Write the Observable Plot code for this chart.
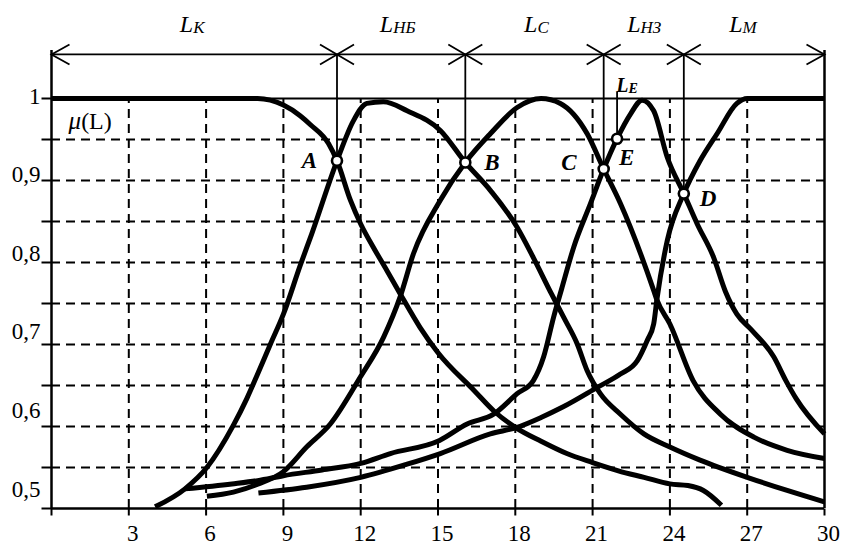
<!DOCTYPE html>
<html>
<head>
<meta charset="utf-8">
<script src="https://cdn.jsdelivr.net/npm/d3@7"></script>
<script src="https://cdn.jsdelivr.net/npm/@observablehq/plot@0.6"></script>
<style>
  body { margin: 0; background: #fff; }
  #chart svg { display: block; background: #fff; }
</style>
</head>
<body>
<div id="chart"></div>
<script>
// ---------------- DATA ----------------
// Membership curves μ(L)
const kX  = [0, 8, 9, 9.65, 10.05, 10.75, 11.08, 11.6, 12, 12.5, 13.02, 13.53, 14.3, 15, 16.4, 17.2, 18, 19, 20, 21, 22, 23, 24, 24.7, 25.3, 26];
const kY  = [1, 1, 0.992, 0.979, 0.968, 0.945, 0.924, 0.876, 0.847, 0.818, 0.79, 0.762, 0.721, 0.69, 0.644, 0.618, 0.599, 0.582, 0.567, 0.556, 0.546, 0.538, 0.53, 0.528, 0.522, 0.504];

const nbX = [4.02, 5.18, 6.03, 7.05, 7.58, 8.0, 8.49, 9.0, 9.66, 10.1, 11.08, 11.72, 12.24, 12.88, 13.8, 15.09, 16.06, 17.03, 18.07, 18.7, 19.4, 19.88, 20.4, 20.79, 21.3, 22.08, 22.99, 24.0, 25.17, 27.0, 28.55, 30];
const nbY = [0.502, 0.524, 0.55, 0.601, 0.634, 0.664, 0.70, 0.737, 0.797, 0.835, 0.924, 0.973, 0.994, 0.996, 0.985, 0.961, 0.922, 0.888, 0.843, 0.806, 0.762, 0.733, 0.701, 0.668, 0.64, 0.615, 0.591, 0.575, 0.559, 0.538, 0.522, 0.508];

const cX  = [6.03, 7.06, 8.03, 9.0, 9.9, 10.82, 11.98, 12.89, 13.53, 14.05, 15.09, 16.06, 17.03, 18.07, 19.0, 19.75, 20.79, 21.43, 22.08, 23.37, 23.5, 24.0, 24.9, 25.96, 27.26, 28.55, 30];
const cY  = [0.515, 0.52, 0.53, 0.545, 0.575, 0.603, 0.66, 0.709, 0.758, 0.811, 0.876, 0.922, 0.957, 0.989, 1.0, 0.994, 0.957, 0.914, 0.872, 0.766, 0.754, 0.725, 0.656, 0.615, 0.587, 0.571, 0.561];

const nzX = [5.18, 7.0, 8.0, 9.0, 10.5, 12.0, 13.15, 15.06, 16.13, 17.16, 18.07, 18.7, 19.1, 19.5, 19.8, 20.27, 20.92, 21.43, 21.95, 22.47, 22.92, 23.37, 23.9, 24.54, 25.06, 25.7, 26.15, 26.6, 27.13, 28.03, 28.5, 28.9, 30];
const nzY = [0.524, 0.53, 0.534, 0.54, 0.547, 0.555, 0.567, 0.583, 0.603, 0.615, 0.64, 0.656, 0.685, 0.735, 0.768, 0.819, 0.872, 0.914, 0.951, 0.981, 0.998, 0.985, 0.928, 0.884, 0.847, 0.806, 0.765, 0.737, 0.719, 0.685, 0.656, 0.634, 0.591];

const mX  = [8.03, 9.9, 12.0, 13.8, 15.09, 17.03, 18.07, 19.0, 19.86, 21.2, 22.08, 22.73, 23.12, 23.37, 23.5, 23.9, 24.54, 25.17, 25.83, 26.6, 27.0, 30];
const mY  = [0.519, 0.526, 0.538, 0.554, 0.567, 0.591, 0.599, 0.611, 0.624, 0.648, 0.664, 0.68, 0.705, 0.725, 0.756, 0.827, 0.884, 0.924, 0.957, 0.994, 1.0, 1.0];

// Characteristic points
const pointNames = ["A", "B", "C", "D", "E"];
const pointX = [11.08, 16.06, 21.43, 24.54, 21.95];
const pointY = [0.924, 0.922, 0.914, 0.884, 0.951];

// Zones (boundaries at A, B, C, D)
const zoneSubs = ["К", "НБ", "С", "НЗ", "М"];
const zoneLabelX = [5.5, 13.26, 18.86, 22.86, 26.82];

// Axes
const xGrid = [3, 6, 9, 12, 15, 18, 21, 24, 27];
const yGrid = [0.55, 0.6, 0.65, 0.7, 0.75, 0.8, 0.85, 0.9, 0.95];
const xTickValues = [0, 3, 6, 9, 12, 15, 18, 21, 24, 27, 30];
const xTickLabels = ["", "3", "6", "9", "12", "15", "18", "21", "24", "27", "30"];
const yTickValues = [0.5, 0.55, 0.6, 0.65, 0.7, 0.75, 0.8, 0.85, 0.9, 0.95, 1];
const yLabelValues = [0.5, 0.6, 0.7, 0.8, 0.9, 1];
const yLabelTexts = ["0,5", "0,6", "0,7", "0,8", "0,9", "1"];

// ---------------- BUILD ----------------
const curveSeries = [
  {name: "К", x: kX, y: kY},
  {name: "НБ", x: nbX, y: nbY},
  {name: "С", x: cX, y: cY},
  {name: "НЗ", x: nzX, y: nzY},
  {name: "М", x: mX, y: mY}
];
const curveData = curveSeries.flatMap(s => s.x.map((x, i) => ({series: s.name, x, y: s.y[i]})));
const points = pointNames.map((name, i) => ({name, x: pointX[i], y: pointY[i]}));
const boundaries = points.slice(0, 4);
const pE = points[4];
const zones = zoneSubs.map((s, i) => ({sub: s, x: zoneLabelX[i]}));

// layout levels (data space, above the frame)
const yMin = 0.5, yMax = 1, xMin = 0, xMax = 30;
const arrowY = 1.0537;
const frameTop = 1.0585;
const zoneLabelY = 1.0817;
const leTopY = 1.0073;

const serif = "'Liberation Serif', 'Times New Roman', Times, serif";

// custom symbols (pure drawing styles)
const xMark = {draw(ctx) { ctx.moveTo(-17, -10); ctx.lineTo(17, 10); ctx.moveTo(-17, 10); ctx.lineTo(17, -10); }};
const headLeft = {draw(ctx) { ctx.moveTo(18, -10); ctx.lineTo(0, 0); ctx.lineTo(18, 10); }};
const headRight = {draw(ctx) { ctx.moveTo(-18, -10); ctx.lineTo(0, 0); ctx.lineTo(-18, 10); }};
const tickLeft = {draw(ctx) { ctx.moveTo(-10, 0); ctx.lineTo(0, 0); }};
const tickDown = {draw(ctx) { ctx.moveTo(0, 0); ctx.lineTo(0, 7); }};

const pointLabelStyle = {
  A: {anchor: "end", dx: -20, dy: 0},
  B: {anchor: "start", dx: 19, dy: 0},
  C: {anchor: "end", dx: -27, dy: -6},
  D: {anchor: "start", dx: 16, dy: 5},
  E: {anchor: "start", dx: 2, dy: 19}
};

const marks = [
  // dashed grid
  Plot.ruleX(xGrid, {x: d => d, y1: yMin, y2: yMax, stroke: "#000", strokeWidth: 2, strokeDasharray: "9,6"}),
  Plot.ruleY(yGrid, {y: d => d, x1: xMin, x2: xMax, stroke: "#000", strokeWidth: 2, strokeDasharray: "9,6"}),
  // frame
  Plot.ruleY([yMax], {y: d => d, x1: xMin, x2: xMax, stroke: "#000", strokeWidth: 1.8}),
  Plot.ruleY([yMin], {y: d => d, x1: xMin, x2: xMax, stroke: "#000", strokeWidth: 2.5}),
  Plot.ruleX([xMin, xMax], {x: d => d, y1: yMin, y2: frameTop, stroke: "#000", strokeWidth: 2.5}),
  // ticks
  Plot.dot(yTickValues, {x: xMin, y: d => d, symbol: tickLeft, stroke: "#000", strokeWidth: 2}),
  Plot.dot(xTickValues, {x: d => d, y: yMin, symbol: tickDown, stroke: "#000", strokeWidth: 2}),
  // x tick labels
  Plot.text(xTickValues, {x: d => d, y: yMin, text: (d, i) => xTickLabels[i], dy: 32, dx: 4,
    lineAnchor: "bottom", textAnchor: "middle", fontFamily: serif, fontSize: 23, fill: "#000"}),
  // y tick labels (slightly drifting, as in the original scan)
  ...yLabelValues.map((v, i) => Plot.text([v], {x: xMin, y: d => d, text: () => yLabelTexts[i],
    dx: -11, dy: 5 - (1 - v) * 34, lineAnchor: "bottom", textAnchor: "end",
    fontFamily: serif, fontSize: 23, fill: "#000"})),
  // zone arrow line
  Plot.ruleY([arrowY], {y: d => d, x1: xMin, x2: xMax, stroke: "#000", strokeWidth: 1.8}),
  Plot.dot([xMin], {x: d => d, y: arrowY, symbol: headLeft, stroke: "#000", strokeWidth: 1.8, fill: "none"}),
  Plot.dot([xMax], {x: d => d, y: arrowY, symbol: headRight, stroke: "#000", strokeWidth: 1.8, fill: "none"}),
  Plot.dot(boundaries, {x: "x", y: arrowY, symbol: xMark, stroke: "#000", strokeWidth: 1.8, fill: "none"}),
  // boundary verticals
  Plot.ruleX(boundaries, {x: "x", y1: "y", y2: arrowY, stroke: "#000", strokeWidth: 1.8}),
  Plot.ruleX([pE], {x: "x", y1: "y", y2: leTopY, stroke: "#000", strokeWidth: 1.8}),
  // curves
  Plot.line(curveData, {x: "x", y: "y", z: "series", stroke: "#000", strokeWidth: 5,
    curve: "monotone-x", strokeLinejoin: "round", strokeLinecap: "butt"}),
  // points
  Plot.dot(points, {x: "x", y: "y", r: 5, fill: "#fff", stroke: "#000", strokeWidth: 2.6}),
  // point labels
  ...points.map(p => {
    const s = pointLabelStyle[p.name];
    return Plot.text([p], {x: "x", y: "y", text: "name", textAnchor: s.anchor, dx: s.dx, dy: s.dy,
      fontFamily: serif, fontSize: 23, fontStyle: "italic", fontWeight: "bold", fill: "#000"});
  }),
  // zone labels L_sub
  Plot.text(zones, {x: "x", y: zoneLabelY, text: () => "L", textAnchor: "end", lineAnchor: "bottom",
    fontFamily: serif, fontSize: 24, fontStyle: "italic", fill: "#000"}),
  Plot.text(zones, {x: "x", y: zoneLabelY, text: "sub", textAnchor: "start", lineAnchor: "bottom", dy: 1,
    fontFamily: serif, fontSize: 17, fontStyle: "italic", fill: "#000"}),
  // L_E label
  Plot.text([pE], {x: d => d.x + 0.44, y: leTopY, text: () => "L", textAnchor: "end", lineAnchor: "bottom", dy: -1,
    fontFamily: serif, fontSize: 20, fontStyle: "italic", fontWeight: "bold", fill: "#000"}),
  Plot.text([pE], {x: d => d.x + 0.44, y: leTopY, text: () => "Е", textAnchor: "start", lineAnchor: "bottom", dy: 0,
    fontFamily: serif, fontSize: 14, fontStyle: "italic", fontWeight: "bold", fill: "#000"}),
  // μ(L) axis title
  Plot.text([xMin], {x: d => d + 1.15, y: 0.9634, text: () => "μ", textAnchor: "end", lineAnchor: "bottom",
    fontFamily: serif, fontSize: 25, fontStyle: "italic", fill: "#000"}),
  Plot.text([xMin], {x: d => d + 1.15, y: 0.9634, text: () => "(L)", textAnchor: "start", lineAnchor: "bottom",
    fontFamily: serif, fontSize: 24, fill: "#000"})
];

const chart = Plot.plot({
  width: 844,
  height: 546,
  marginLeft: 51,
  marginRight: 20,
  marginTop: 98,
  marginBottom: 38,
  x: {domain: [xMin, xMax], axis: null},
  y: {domain: [yMin, yMax], axis: null},
  style: {background: "#fff", color: "#000", fontFamily: serif},
  marks
});
document.getElementById("chart").appendChild(chart);
</script>
</body>
</html>
